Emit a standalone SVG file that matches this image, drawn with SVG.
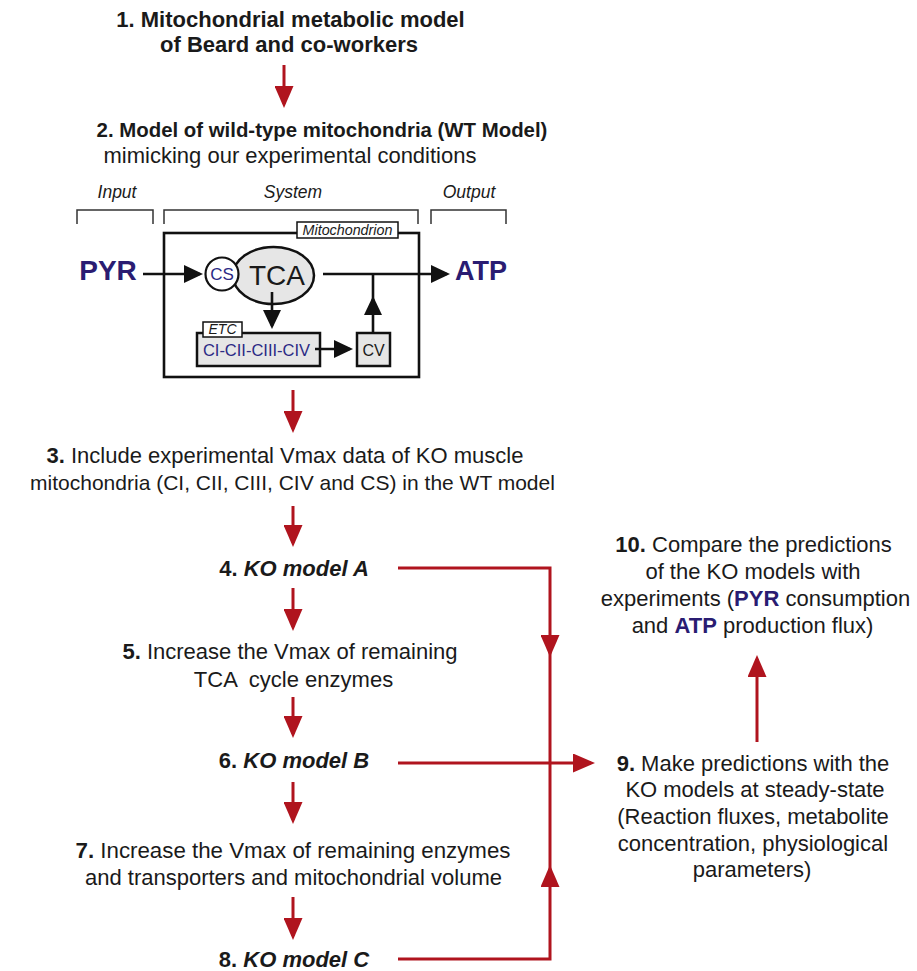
<svg xmlns="http://www.w3.org/2000/svg" width="917" height="971" viewBox="0 0 917 971">
<style>
text{font-family:"Liberation Sans",Arial,Helvetica,sans-serif;fill:#1a1a1a}
.t{font-size:22px;text-anchor:middle}
.b{font-weight:bold}
.i{font-style:italic}
.blue{fill:#2a1c72;font-weight:bold}
.cb{fill:#2b2a85}
.red{fill:none;stroke:#b0141e;stroke-width:3}
.blk{fill:none;stroke:#111;stroke-width:2.6}
.brk{fill:none;stroke:#333;stroke-width:1.5}
.grey{fill:#e6e6e6;stroke:#111;stroke-width:2.5}
.lbl{fill:#fff;stroke:#111;stroke-width:1.5}
</style>
<defs>
<marker id="ar" markerUnits="userSpaceOnUse" markerWidth="22" markerHeight="19" refX="18" refY="9.5" orient="auto">
<path d="M0,0 L22,9.5 L0,19 z" fill="#b0141e"/>
</marker>
<marker id="ab" markerUnits="userSpaceOnUse" markerWidth="19" markerHeight="18" refX="16" refY="9" orient="auto">
<path d="M0,0 L19,9 L0,18 z" fill="#111"/>
</marker>
</defs>

<g id="step1">
<text class="t b" x="290.5" y="27">1. Mitochondrial metabolic model</text>
<text class="t b" x="289" y="52">of Beard and co-workers</text>
</g>

<g id="step2">
<text class="t b" x="322" y="137" style="font-size:20.4px">2. Model of wild-type mitochondria (WT Model)</text>
<text class="t" x="290" y="163">mimicking our experimental conditions</text>
</g>

<g id="brackets">
<text class="i" x="117" y="198" style="font-size:17.5px;text-anchor:middle">Input</text>
<text class="i" x="293" y="198" style="font-size:17.5px;text-anchor:middle">System</text>
<text class="i" x="469" y="198" style="font-size:17.5px;text-anchor:middle">Output</text>
<path class="brk" d="M77,224 V210 H153 V224"/>
<path class="brk" d="M164,224 V210 H418 V224"/>
<path class="brk" d="M431,224 V210 H506 V224"/>
</g>

<g id="mitochondrion">
<rect x="164" y="233" width="255" height="144" fill="#fff" stroke="#111" stroke-width="2.6"/>
<rect class="lbl" x="297" y="222" width="101" height="16"/>
<text class="i" x="347.5" y="234.5" style="font-size:14.3px;text-anchor:middle">Mitochondrion</text>
</g>

<g id="PYR">
<text class="blue" x="108" y="280" style="font-size:28px;text-anchor:middle">PYR</text>
</g>
<g id="ATP">
<text class="blue" x="481" y="280" style="font-size:27px;text-anchor:middle">ATP</text>
</g>

<g id="TCA">
<ellipse class="grey" cx="273.5" cy="275.5" rx="40.5" ry="28.5"/>
<text x="277" y="284.5" style="font-size:28px;text-anchor:middle">TCA</text>
</g>
<g id="CS">
<circle cx="222" cy="274" r="16.5" fill="#fff" stroke="#111" stroke-width="2.2"/>
<text class="cb" x="222" y="280" style="font-size:17px;text-anchor:middle">CS</text>
</g>
<g id="ETC">
<rect class="grey" x="197" y="333" width="123" height="33"/>
<rect class="lbl" x="203" y="322" width="39" height="15"/>
<text class="i" x="222.5" y="334" style="font-size:14px;text-anchor:middle">ETC</text>
<text class="cb" x="256.5" y="355.5" style="font-size:16.5px;text-anchor:middle">CI-CII-CIII-CIV</text>
</g>
<g id="CV">
<rect class="grey" x="357" y="333" width="33" height="33"/>
<text x="373.5" y="355.5" style="font-size:16px;text-anchor:middle">CV</text>
</g>

<g id="step3">
<text class="t" x="285" y="463"><tspan class="b">3.</tspan> Include experimental Vmax data of KO muscle</text>
<text class="t" x="292.5" y="490" style="font-size:21px">mitochondria (CI, CII, CIII, CIV and CS) in the WT model</text>
</g>
<g id="step4">
<text class="t b" x="294" y="576">4. <tspan class="i">KO model A</tspan></text>
</g>
<g id="step5">
<text class="t" x="290" y="659"><tspan class="b">5.</tspan> Increase the Vmax of remaining</text>
<text class="t" x="293.5" y="687" xml:space="preserve">TCA  cycle enzymes</text>
</g>
<g id="step6">
<text class="t b" x="294" y="768">6. <tspan class="i">KO model B</tspan></text>
</g>
<g id="step7">
<text class="t" x="293" y="858" style="font-size:22.3px"><tspan class="b">7.</tspan> Increase the Vmax of remaining enzymes</text>
<text class="t" x="293.5" y="885">and transporters and mitochondrial volume</text>
</g>
<g id="step8">
<text class="t b" x="294" y="967">8. <tspan class="i">KO model C</tspan></text>
</g>

<g id="step9">
<text class="t" x="753" y="771"><tspan class="b">9.</tspan> Make predictions with the</text>
<text class="t" x="755" y="797">KO models at steady-state</text>
<text class="t" x="753" y="824">(Reaction fluxes, metabolite</text>
<text class="t" x="753" y="851">concentration, physiological</text>
<text class="t" x="752" y="877">parameters)</text>
</g>
<g id="step10">
<text class="t" x="753.5" y="552"><tspan class="b">10.</tspan> Compare the predictions</text>
<text class="t" x="753" y="579">of the KO models with</text>
<text class="t" x="755.5" y="606">experiments (<tspan class="blue">PYR</tspan> consumption</text>
<text class="t" x="752.5" y="633">and <tspan class="blue">ATP</tspan> production flux)</text>
</g>

<g id="connectors">
<path class="red" marker-end="url(#ar)" d="M284,65 V104"/>
<path class="red" marker-end="url(#ar)" d="M293,390 V429"/>
<path class="red" marker-end="url(#ar)" d="M293,506 V543"/>
<path class="red" marker-end="url(#ar)" d="M293,588 V627"/>
<path class="red" marker-end="url(#ar)" d="M293,697 V734"/>
<path class="red" marker-end="url(#ar)" d="M293,782 V820"/>
<path class="red" marker-end="url(#ar)" d="M293,897 V936"/>
<path class="red" marker-end="url(#ar)" d="M398,568 H550 V653"/>
<path class="red" d="M550,650 V763"/>
<path class="red" marker-end="url(#ar)" d="M398,959 H550 V869"/>
<path class="red" d="M550,872 V763"/>
<path class="red" marker-end="url(#ar)" d="M398,763 H591"/>
<path class="red" marker-end="url(#ar)" d="M757,742 V659"/>
<path class="blk" marker-end="url(#ab)" d="M143,274 H200"/>
<path class="blk" marker-end="url(#ab)" d="M323,274 H447"/>
<path class="blk" marker-end="url(#ab)" d="M373,333 V299"/>
<path class="blk" d="M373,301 V274"/>
<path class="blk" marker-end="url(#ab)" d="M272,292 V326"/>
<path class="blk" marker-end="url(#ab)" d="M315,349 H350"/>
</g>
</svg>
